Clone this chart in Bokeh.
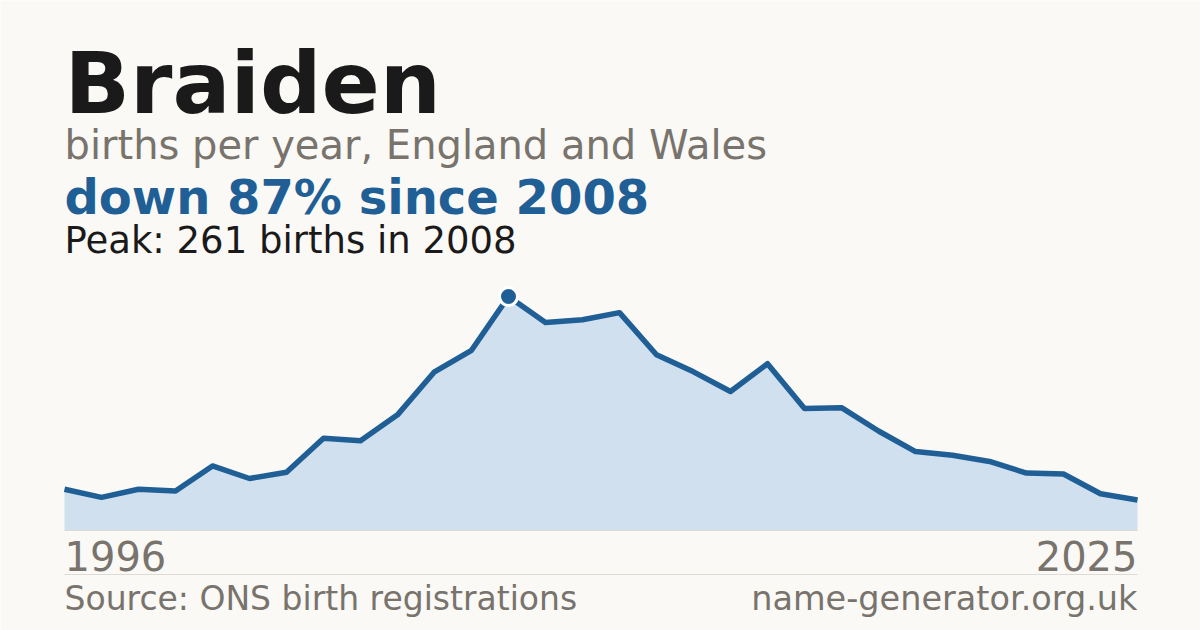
from bokeh.plotting import figure
from bokeh.models import Label, Range1d
from bokeh.embed import file_html
from bokeh.resources import INLINE

# ---- data ----
years = list(range(1996, 2026))
births = [46, 37, 46, 44, 72, 58, 65, 103, 100, 129,
          177, 201, 261, 232, 235, 243, 196, 177, 155, 186,
          136, 137, 111, 88, 84, 77, 64, 63, 41, 34]
name = "Braiden"
subtitle = "births per year, England and Wales"
source = "Source: ONS birth registrations"
site = "name-generator.org.uk"

# ---- styles ----
BG = "#faf9f5"
BLUE = "#1f5f96"
FILL = "#d0e0ef"
GREY = "#78736c"
DARK = "#1a1a1a"
RULE = "#dedbd4"
FONT = "DejaVu Sans"

# ---- layout (page pixels) ----
W, H, OFF = 1200, 630, 0
X_LEFT, X_RIGHT = 64, 1137
BASE_Y, PEAK_Y = 530, 296
BASELINE_FIX = 0.36  # renderer places alphabetic baseline lower by ~0.36em

peak_i = max(range(len(births)), key=lambda i: births[i])
peak_val, peak_year = births[peak_i], years[peak_i]
pct = round((1 - births[-1] / peak_val) * 100)

ppy = (X_RIGHT - X_LEFT) / (years[-1] - years[0])
x_start = years[0] - (X_LEFT - OFF) / ppy
ppu = (BASE_Y - PEAK_Y) / peak_val
y_start = -(OFF + H - BASE_Y) / ppu

p = figure(width=W, height=H, output_backend="svg", toolbar_location=None,
           x_range=Range1d(x_start, x_start + W / ppy),
           y_range=Range1d(y_start, y_start + H / ppu),
           min_border=0, background_fill_color=BG, border_fill_color=BG)
p.axis.visible = False
p.grid.visible = False
p.outline_line_color = None

p.varea(x=years, y1=[0] * len(years), y2=births, fill_color=FILL)
p.line(x=[years[0], years[-1]], y=[0, 0], line_color=RULE, line_width=1)
sep_y = -(574 - BASE_Y) / ppu
p.line(x=[years[0], years[-1]], y=[sep_y, sep_y], line_color=RULE, line_width=1)
p.line(x=years, y=births, line_color=BLUE, line_width=5.5, line_join="round")
p.scatter(x=[peak_year], y=[peak_val], size=18, fill_color=BLUE,
          line_color="white", line_width=3)


def sx(px):
    return px - OFF


def sy(py):
    return OFF + H - py


def lab(text, x, y, size, color, bold=False, align="left"):
    y_adj = y - BASELINE_FIX * size
    p.add_layout(Label(x=sx(x), y=sy(y_adj), x_units="screen", y_units="screen",
                       text=text, text_font=FONT, text_font_size=f"{size}px",
                       text_color=color, text_align=align,
                       text_baseline="alphabetic",
                       text_font_style="bold" if bold else "normal"))


lab(name, 64, 113, 86, DARK, bold=True)
lab(subtitle, 64, 159, 40, GREY)
lab(f"down {pct}% since {peak_year}", 64, 214, 48, BLUE, bold=True)
lab(f"Peak: {peak_val} births in {peak_year}", 64, 253, 37, DARK)
lab(str(years[0]), 64, 570, 40, GREY)
lab(str(years[-1]), 1137, 570, 40, GREY, align="right")
lab(source, 64, 610, 33, GREY)
lab(site, 1137, 610, 33.5, GREY, align="right")

html = file_html(p, INLINE)
html = html.replace("<body>", f'<body style="background:{BG};">', 1)
open("out.html", "w").write(html)
